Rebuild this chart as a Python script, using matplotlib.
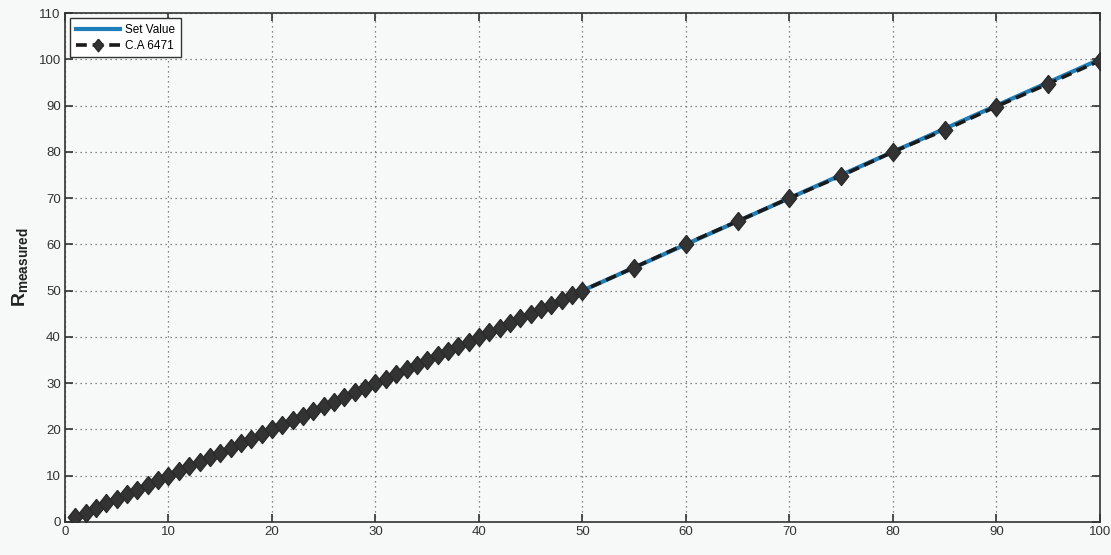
import numpy as np
import matplotlib
matplotlib.use("Agg")
import matplotlib.pyplot as plt

plt.rcParams['font.family'] = ['Liberation Sans', 'DejaVu Sans']
plt.rcParams['mathtext.fontset'] = 'custom'
plt.rcParams['mathtext.rm'] = 'Liberation Sans'
plt.rcParams['mathtext.bf'] = 'Liberation Sans:bold'

# Resistance set points (1..50 in steps of 1, then 55..100 in steps of 5)
set_points = list(range(1, 51)) + [55, 60, 65, 70, 75, 80, 85, 90, 95, 100]
set_value = list(set_points)
ca6471 = list(range(1, 51)) + [55.0, 60.1, 65.0, 70.0, 74.8, 80.0, 84.7, 89.8, 94.7, 99.7]

x_ticks = list(range(0, 101, 10))
y_ticks = list(range(0, 111, 10))

# slightly tall diamond marker
diamond = [(0, 1), (0.8, 0), (0, -1), (-0.8, 0), (0, 1)]

bg = '#f7f8f8'
fig = plt.figure(figsize=(11.11, 5.55), dpi=100, facecolor=bg)
ax = fig.add_axes([0.0585, 0.0595, 0.9315, 0.917], facecolor=bg)

ax.plot(set_points, set_value, color='#1f7fba', lw=3.0, label='Set Value', zorder=3)
ax.plot(set_points, ca6471, color='#1a1a1a', lw=2.6, ls=(0, (3.0, 1.6)),
        marker=diamond, markersize=13, markerfacecolor='#333333', markeredgecolor='#2a2a2a',
        label='C.A 6471', zorder=4)

ax.set_xlim(0, 100)
ax.set_ylim(0, 110)
ax.set_xticks(x_ticks)
ax.set_yticks(y_ticks)
ax.grid(True, ls=(0, (1, 3)), color='#666666', lw=0.9)
ax.tick_params(direction='in', length=6, width=1.2, colors='#333333', labelsize=9.5,
               top=True, right=True, pad=3)
for s in ax.spines.values():
    s.set_color('#333333')
    s.set_linewidth(1.2)

ax.set_ylabel(r'$\mathbf{R_{measured}}$', fontsize=14, color='#222222', labelpad=6)

leg = ax.legend(loc='upper left', fontsize=8.5, frameon=True, fancybox=False,
                edgecolor='#333333', facecolor='white', framealpha=1,
                handlelength=3.8, borderpad=0.45, labelspacing=0.35, handletextpad=0.4,
                borderaxespad=0.45, markerscale=0.7)
leg.get_frame().set_linewidth(1.0)

fig.savefig('out.png', dpi=100, facecolor=bg)
